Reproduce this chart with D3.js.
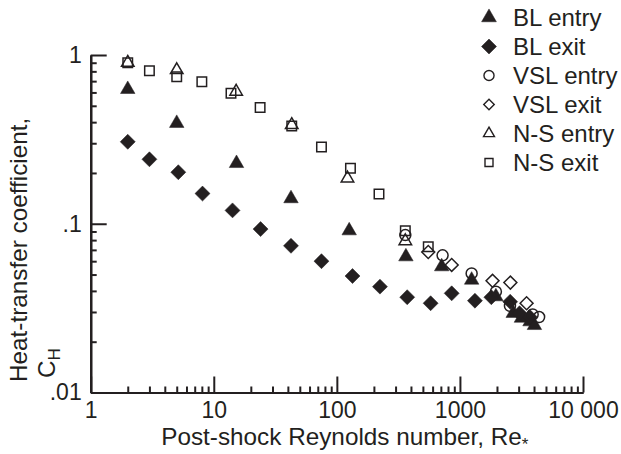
<!DOCTYPE html>
<html>
<head>
<meta charset="utf-8">
<script src="https://cdn.jsdelivr.net/npm/d3@7"></script>
<style>
  html, body { margin: 0; padding: 0; background: #fff; }
  svg { display: block; }
  text { font-family: "Liberation Sans", Arial, Helvetica, sans-serif; fill: #231f20; }
</style>
</head>
<body>
<svg id="chart" width="621" height="454"></svg>
<script>
// ---------- data ----------
const seriesNames = ["BL entry", "BL exit", "VSL entry", "VSL exit", "N-S entry", "N-S exit"];

const blEntry = [[2,0.626],[5,0.394],[15.3,0.228],[42.4,0.141],[126,0.091],[364,0.0638],[711,0.0557],
  [1245,0.0464],[1960,0.037],[2710,0.0295],[3160,0.0276],[3710,0.0263],[4030,0.025]];
const blExit = [[2,0.306],[3,0.241],[5.15,0.202],[8.1,0.151],[14.2,0.12],[24,0.093],[42.4,0.074],[75,0.06],
  [134,0.049],[224,0.0424],[373,0.0367],[578,0.0338],[857,0.0387],[1324,0.035],[1800,0.0367],[2560,0.0345],
  [3050,0.0295],[3700,0.028]];
const vslEntry = [[360,0.0857],[723,0.065],[1245,0.0508],[1960,0.0396],[2550,0.0326],[3900,0.029],[4400,0.028]];
const vslExit = [[553,0.068],[857,0.057],[1841,0.0459],[2570,0.0448],[3480,0.0338]];
const nsEntry = [[2,0.9],[5,0.815],[15.2,0.607],[43,0.385],[122,0.186],[360,0.079]];
const nsExit = [[2,0.9],[3,0.807],[5,0.744],[8,0.695],[13.8,0.593],[23.8,0.488],[43,0.38],[75,0.285],
  [129,0.213],[220,0.15],[360,0.091],[553,0.073]];

const xTickValues = [1, 10, 100, 1000, 10000];
const xTickLabels = ["1", "10", "100", "1000", "10 000"];
const yTickValues = [0.01, 0.1, 1];
const yTickLabels = [".01", ".1", "1"];

// ---------- layout / style ----------
const W = 621, H = 454;
const mLeft = 90.7, mRight = 583, mTop = 55, mBottom = 392.5;
const ink = "#231f20";
const tickFont = 23;
const titleFont = 24.3;

const styles = [
  { type: d3.symbolTriangle, size: 91,  filled: true,  rot: 0,  legSize: 95 },
  { type: d3.symbolSquare,   size: 112, filled: true,  rot: 45, legSize: 112 },
  { type: d3.symbolCircle,   size: 95,  filled: false, rot: 0,  legSize: 80 },
  { type: d3.symbolSquare,   size: 84,  filled: false, rot: 45, legSize: 55 },
  { type: d3.symbolTriangle, size: 68,  filled: false, rot: 0,  legSize: 52 },
  { type: d3.symbolSquare,   size: 90,  filled: false, rot: 0,  legSize: 64 }
];
const allSeries = [blEntry, blExit, vslEntry, vslExit, nsEntry, nsExit];

const svg = d3.select("#chart");
svg.append("rect").attr("width", W).attr("height", H).attr("fill", "#fff");

const x = d3.scaleLog().domain([1, 10000]).range([mLeft, mRight]);
const y = d3.scaleLog().domain([0.01, 1]).range([mBottom, mTop]);

function minorTicks(lo, hi) {
  const out = [];
  for (let d = lo; d < hi; d *= 10) for (let k = 2; k <= 9; k++) out.push(d * k);
  return out;
}

// x axis: minor ticks
const xMinor = svg.append("g").attr("transform", `translate(0,${mBottom})`)
  .call(d3.axisBottom(x).tickValues(minorTicks(1, 10000)).tickSize(-6).tickSizeOuter(0).tickFormat(""));
// x axis: major ticks + labels
const xMajor = svg.append("g").attr("transform", `translate(0,${mBottom})`)
  .call(d3.axisBottom(x).tickValues(xTickValues).tickSize(-16).tickSizeOuter(0).tickPadding(9)
    .tickFormat((d, i) => xTickLabels[i]));

// y axis
const yMinor = svg.append("g").attr("transform", `translate(${mLeft},0)`)
  .call(d3.axisLeft(y).tickValues(minorTicks(0.01, 1)).tickSize(-6).tickSizeOuter(0).tickFormat(""));
const yMajor = svg.append("g").attr("transform", `translate(${mLeft},0)`)
  .call(d3.axisLeft(y).tickValues(yTickValues).tickSize(-16).tickSizeOuter(0).tickPadding(9)
    .tickFormat((d, i) => yTickLabels[i]));

[xMinor, xMajor, yMinor, yMajor].forEach(g => {
  g.selectAll("path.domain").attr("stroke", ink).attr("stroke-width", 2.2);
  g.selectAll(".tick line").attr("stroke", ink).attr("stroke-width", 2);
  g.selectAll(".tick text").attr("fill", ink).style("font-size", tickFont + "px")
    .style("font-family", '"Liberation Sans", Arial, sans-serif');
});

// axis titles
const xt = svg.append("text").attr("x", (mLeft + mRight) / 2 + 8).attr("y", 445)
  .attr("text-anchor", "middle").style("font-size", titleFont + "px");
xt.append("tspan").text("Post-shock Reynolds number, Re");
xt.append("tspan").attr("dy", 5).style("font-size", "17px").text("*");

const yt = svg.append("g").attr("transform", "translate(27,382) rotate(-90)");
yt.append("text").attr("x", 0).attr("y", 0).style("font-size", titleFont + "px").text("Heat-transfer coefficient,");
const ch = yt.append("text").attr("x", 4).attr("y", 28).style("font-size", titleFont + "px");
ch.append("tspan").text("C");
ch.append("tspan").attr("dy", 5).style("font-size", "17px").text("H");

// points
allSeries.forEach((data, si) => {
  const st = styles[si];
  const sym = d3.symbol().type(st.type).size(st.size);
  svg.append("g").selectAll("path").data(data).join("path")
    .attr("d", sym)
    .attr("transform", d => `translate(${x(d[0])},${y(d[1])}) rotate(${st.rot})`)
    .attr("fill", st.filled ? ink : "none")
    .attr("stroke", ink)
    .attr("stroke-width", st.filled ? 0.5 : 1.5);
});

// legend
const leg = svg.append("g");
seriesNames.forEach((name, i) => {
  const st = styles[i];
  const cy = 17.5 + i * 29;
  leg.append("path")
    .attr("d", d3.symbol().type(st.type).size(st.legSize))
    .attr("transform", `translate(489,${cy}) rotate(${st.rot})`)
    .attr("fill", st.filled ? ink : "none")
    .attr("stroke", ink)
    .attr("stroke-width", st.filled ? 0.5 : 1.4);
  leg.append("text").attr("x", 513).attr("y", cy + 8.5)
    .style("font-size", "24px").text(name);
});
</script>
</body>
</html>
